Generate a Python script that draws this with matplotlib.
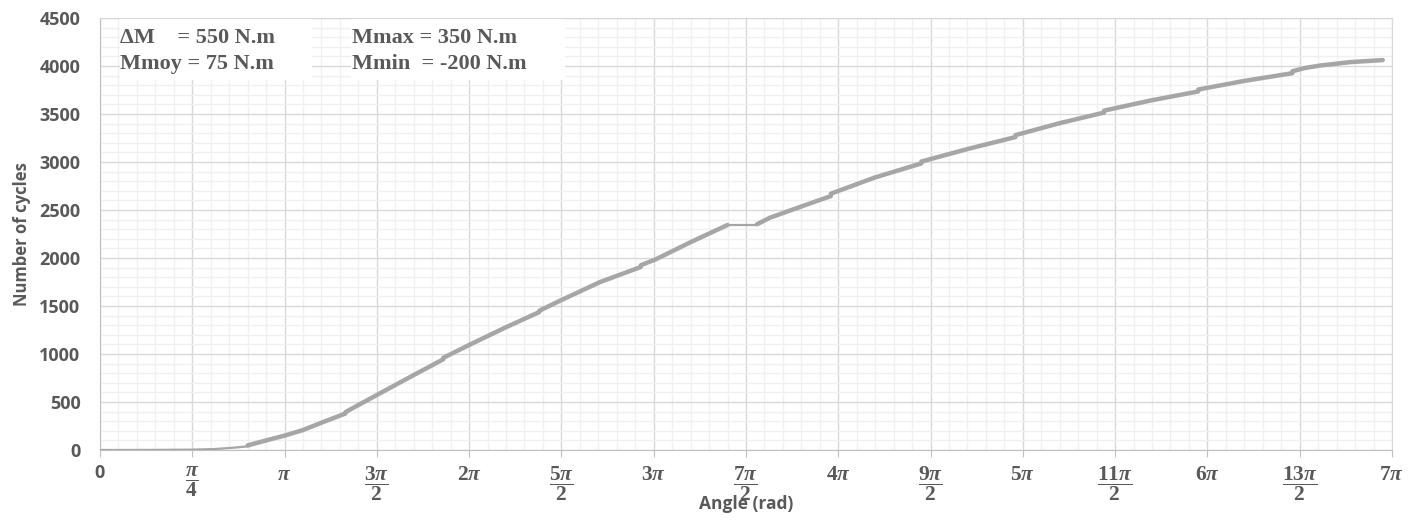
import numpy as np
import matplotlib
matplotlib.use("Agg")
import matplotlib.pyplot as plt
from matplotlib.patches import Rectangle
from matplotlib.ticker import MultipleLocator

# angle in multiples of pi, number of cycles, read per segment
seg_angle = [
    [0.0, 0.27, 0.50, 0.62, 0.73, 0.81],
    [0.80, 0.92, 1.00, 1.10, 1.21, 1.33],
    [1.33, 1.50, 1.68, 1.86],
    [1.86, 2.00, 2.19, 2.38],
    [2.38, 2.50, 2.71, 2.93],
    [2.93, 3.01, 3.20, 3.40],
    [3.40, 3.56],
    [3.56, 3.63, 3.79, 3.96],
    [3.96, 4.20, 4.45],
    [4.45, 4.71, 4.96],
    [4.96, 5.20, 5.44],
    [5.44, 5.69, 5.95],
    [5.95, 6.20, 6.46],
    [6.46, 6.53, 6.61, 6.77, 6.95],
]
seg_cycles = [
    [0, 1, 4, 10, 25, 40],
    [48, 110, 150, 208, 292, 380],
    [395, 573, 760, 945],
    [960, 1094, 1270, 1437],
    [1450, 1562, 1750, 1906],
    [1925, 1985, 2165, 2344],
    [2344, 2344],
    [2352, 2420, 2530, 2645],
    [2670, 2840, 2985],
    [3005, 3140, 3260],
    [3280, 3405, 3515],
    [3535, 3640, 3735],
    [3755, 3845, 3925],
    [3945, 3980, 4005, 4040, 4062],
]
thin_segments = [0, 6]

tick_labels = ['0', r'$\dfrac{\pi}{4}$', r'$\pi$', r'$\dfrac{3\pi}{2}$', r'$2\pi$',
               r'$\dfrac{5\pi}{2}$', r'$3\pi$', r'$\dfrac{7\pi}{2}$', r'$4\pi$',
               r'$\dfrac{9\pi}{2}$', r'$5\pi$', r'$\dfrac{11\pi}{2}$', r'$6\pi$',
               r'$\dfrac{13\pi}{2}$', r'$7\pi$']

info_left = "ΔM    = 550 N.m\nMmoy = 75 N.m"
info_right = "Mmax = 350 N.m\nMmin  = -200 N.m"

txt = '#595959'
plt.rcParams['mathtext.fontset'] = 'custom'
plt.rcParams['mathtext.rm'] = 'Liberation Serif:bold'
plt.rcParams['mathtext.it'] = 'Liberation Serif:italic:bold'
plt.rcParams['mathtext.bf'] = 'Liberation Serif:bold'

fig = plt.figure(figsize=(14.24, 5.24), dpi=100)
ax = fig.add_axes([0.0702, 0.1412, 0.9073, 0.8244])

for i in range(len(seg_angle)):
    lw = 1.6 if i in thin_segments else 3.2
    ax.plot(np.array(seg_angle[i]) * np.pi, seg_cycles[i], color='#A6A6A6',
            lw=lw, solid_capstyle='round', solid_joinstyle='round', zorder=4)

ax.set_xlim(0, 7 * np.pi)
ax.set_ylim(0, 4500)
ax.set_xticks(np.arange(15) * np.pi / 2)
ax.set_xticklabels(tick_labels)
ax.xaxis.set_minor_locator(MultipleLocator(np.pi / 10))
ax.yaxis.set_major_locator(MultipleLocator(500))
ax.yaxis.set_minor_locator(MultipleLocator(100))

ax.grid(True, which='major', color='#D9D9D9', lw=1.0, zorder=1)
ax.grid(True, which='minor', color='#F0F0F0', lw=1.0, zorder=0)
ax.set_axisbelow(True)

for s in ['top', 'right']:
    ax.spines[s].set_color('#D9D9D9')
for s in ['left', 'bottom']:
    ax.spines[s].set_color('#BFBFBF')

ax.tick_params(axis='x', which='major', length=5, color='#BFBFBF', pad=5,
               labelsize=15.5, labelcolor=txt)
ax.tick_params(axis='y', which='major', length=0, pad=14, labelcolor=txt)
ax.tick_params(which='minor', length=0)
for lab in ax.get_yticklabels():
    lab.set_fontfamily('Open Sans')
    lab.set_fontweight('bold')
    lab.set_fontsize(13)
ax.get_xticklabels()[0].set_fontfamily('Open Sans')
ax.get_xticklabels()[0].set_fontweight('bold')
ax.get_xticklabels()[0].set_fontsize(13)

ax.set_ylabel('Number of cycles', fontfamily='Open Sans', fontweight='bold',
              fontsize=12, color=txt)
ax.yaxis.set_label_coords(-0.053, 0.5)
ax.set_xlabel('Angle (rad)', fontfamily='Open Sans', fontweight='bold',
              fontsize=12.5, color=txt)
ax.xaxis.set_label_coords(0.5, -0.105)

# white boxes behind the info text
ax.add_patch(Rectangle((0.0155, 0.856), 0.149, 0.142, transform=ax.transAxes,
                       facecolor='white', edgecolor='none', zorder=2))
ax.add_patch(Rectangle((0.194, 0.856), 0.166, 0.142, transform=ax.transAxes,
                       facecolor='white', edgecolor='none', zorder=2))
ax.text(0.0155, 0.978, info_left, transform=ax.transAxes, va='top', ha='left',
        fontfamily='Liberation Serif', fontweight='bold', fontsize=16,
        linespacing=1.45, color=txt, zorder=3)
ax.text(0.195, 0.978, info_right, transform=ax.transAxes, va='top', ha='left',
        fontfamily='Liberation Serif', fontweight='bold', fontsize=16,
        linespacing=1.45, color=txt, zorder=3)

fig.savefig('out.png', dpi=100)
